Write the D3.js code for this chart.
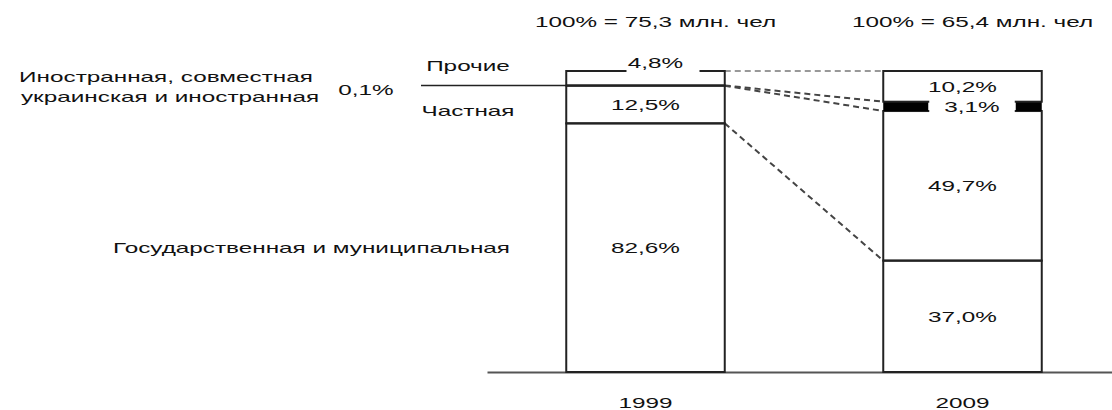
<!DOCTYPE html>
<html>
<head>
<meta charset="utf-8">
<script src="https://cdn.jsdelivr.net/npm/d3@7"></script>
<style>
  body { margin: 0; background: #fff; }
  svg text { font-family: "Liberation Sans", Arial, sans-serif; font-size: 15px; fill: #111; }
</style>
</head>
<body>
<svg id="chart"></svg>
<script>
// data (shares in %, stacked from the bottom)
var years = ["1999", "2009"];
var totals = ["75,3", "65,4"]; // млн. чел = 100%
var categories = ["Государственная и муниципальная", "Частная", "Иностранная, совместная украинская и иностранная", "Прочие"];
var share1999 = [82.6, 12.5, 0.1, 4.8];
var share2009 = [37.0, 49.7, 3.1, 10.2];

var svgWidth = 1112, svgHeight = 410;
var SX = 1.62; // the source text is stretched horizontally

var svg = d3.select("#chart")
  .attr("width", svgWidth)
  .attr("height", svgHeight);

var x = d3.scaleBand().domain(years).range([487, 1121]).paddingInner(0.5).paddingOuter(0.25);
var y = d3.scaleLinear().domain([0, 100]).range([372, 71]);
var bw = x.bandwidth();

function fmt(v) { return v.toFixed(1).replace(".", ",") + "%"; }

function put(sel, px, py, str, anchor) {
  return sel.append("text")
    .attr("transform", "translate(" + px + "," + py + ") scale(" + SX + ",1)")
    .attr("text-anchor", anchor || "middle")
    .attr("dy", "0.35em")
    .text(str);
}

// stack each year
var stacks = [share1999, share2009].map(function(vals, i) {
  var c = 0;
  return vals.map(function(v, k) {
    var s = { year: years[i], cat: k, value: v, y0: c, y1: c + v };
    c += v;
    return s;
  });
});

// axis
var axis = svg.append("g")
  .attr("transform", "translate(0," + y(0) + ")")
  .call(d3.axisBottom(x).tickSize(0).tickPadding(25));
axis.select(".domain").attr("stroke", "#555").attr("stroke-width", 2);
axis.selectAll(".tick text")
  .attr("transform", "scale(" + SX + ",1)")
  .style("font-family", "Liberation Sans, Arial, sans-serif")
  .style("font-size", "15px")
  .attr("fill", "#111");

// connectors between bars, one per boundary
var bounds = stacks[0].map(function(s, k) {
  return { a: s.y1, b: stacks[1][k].y1, k: k };
});
svg.selectAll(".conn")
  .data(bounds)
  .enter().append("line")
  .attr("class", "conn")
  .attr("x1", x(years[0]) + bw)
  .attr("x2", x(years[1]))
  .attr("y1", function(d) { return y(d.a); })
  .attr("y2", function(d) { return y(d.b); })
  .attr("stroke", function(d) { return d.k == 3 ? "#999" : "#444"; })
  .attr("stroke-width", 2)
  .attr("stroke-dasharray", "6,4");

// bars
stacks.forEach(function(stack, i) {
  var g = svg.append("g");
  var lab = svg.append("g");
  var bx = x(years[i]);
  var cx = bx + bw / 2;

  stack.forEach(function(s) {
    var top = y(s.y1), bot = y(s.y0), h = bot - top;
    if (s.cat == 2) {
      if (h < 5) {
        // thin band: a leader line out to the left labels
        g.append("line")
          .attr("x1", 421).attr("x2", bx + bw)
          .attr("y1", top).attr("y2", top)
          .attr("stroke", "#222").attr("stroke-width", 1.5);
      } else {
        g.append("rect")
          .attr("x", bx).attr("y", top).attr("width", 45).attr("height", h)
          .attr("fill", "#000");
        g.append("rect")
          .attr("x", bx + bw - 26).attr("y", top).attr("width", 26).attr("height", h)
          .attr("fill", "#000");
        var mid = (top + bot) / 2;
        lab.append("rect")
          .attr("x", bx + 46).attr("y", mid - 7).attr("width", bw - 73).attr("height", 14)
          .attr("fill", "#fff");
        put(lab, (bx + 45 + bx + bw - 26) / 2, mid, fmt(s.value));
      }
      return;
    }
    g.append("rect")
      .attr("x", bx).attr("y", top).attr("width", bw).attr("height", h)
      .attr("fill", "none").attr("stroke", "#222").attr("stroke-width", 2);
    if (h < 20) {
      // small segment: label sits on its top edge
      lab.append("rect")
        .attr("x", cx - 19).attr("y", top - 3).attr("width", 73).attr("height", 6)
        .attr("fill", "#fff");
      put(lab, cx + 10, top - 8, fmt(s.value));
    } else {
      put(lab, cx, (top + bot) / 2, fmt(s.value));
    }
  });

  put(svg, cx + 10, 22, "100% = " + totals[i] + " млн. чел");
});

// category labels on the left, next to the 1999 bar
var s99 = stacks[0];
var lead = y(s99[2].y1);
put(svg, 468, lead - 20, categories[3]);
put(svg, 468, lead + 25, categories[1]);
put(svg, 366, lead + 4, fmt(s99[2].value));
var foreignLines = ["Иностранная, совместная", "украинская и иностранная"];
put(svg, 166, lead - 9, foreignLines[0]);
put(svg, 170, lead + 11, foreignLines[1]);
put(svg, 510, (y(s99[0].y0) + y(s99[0].y1)) / 2, categories[0], "end");
</script>
</body>
</html>
